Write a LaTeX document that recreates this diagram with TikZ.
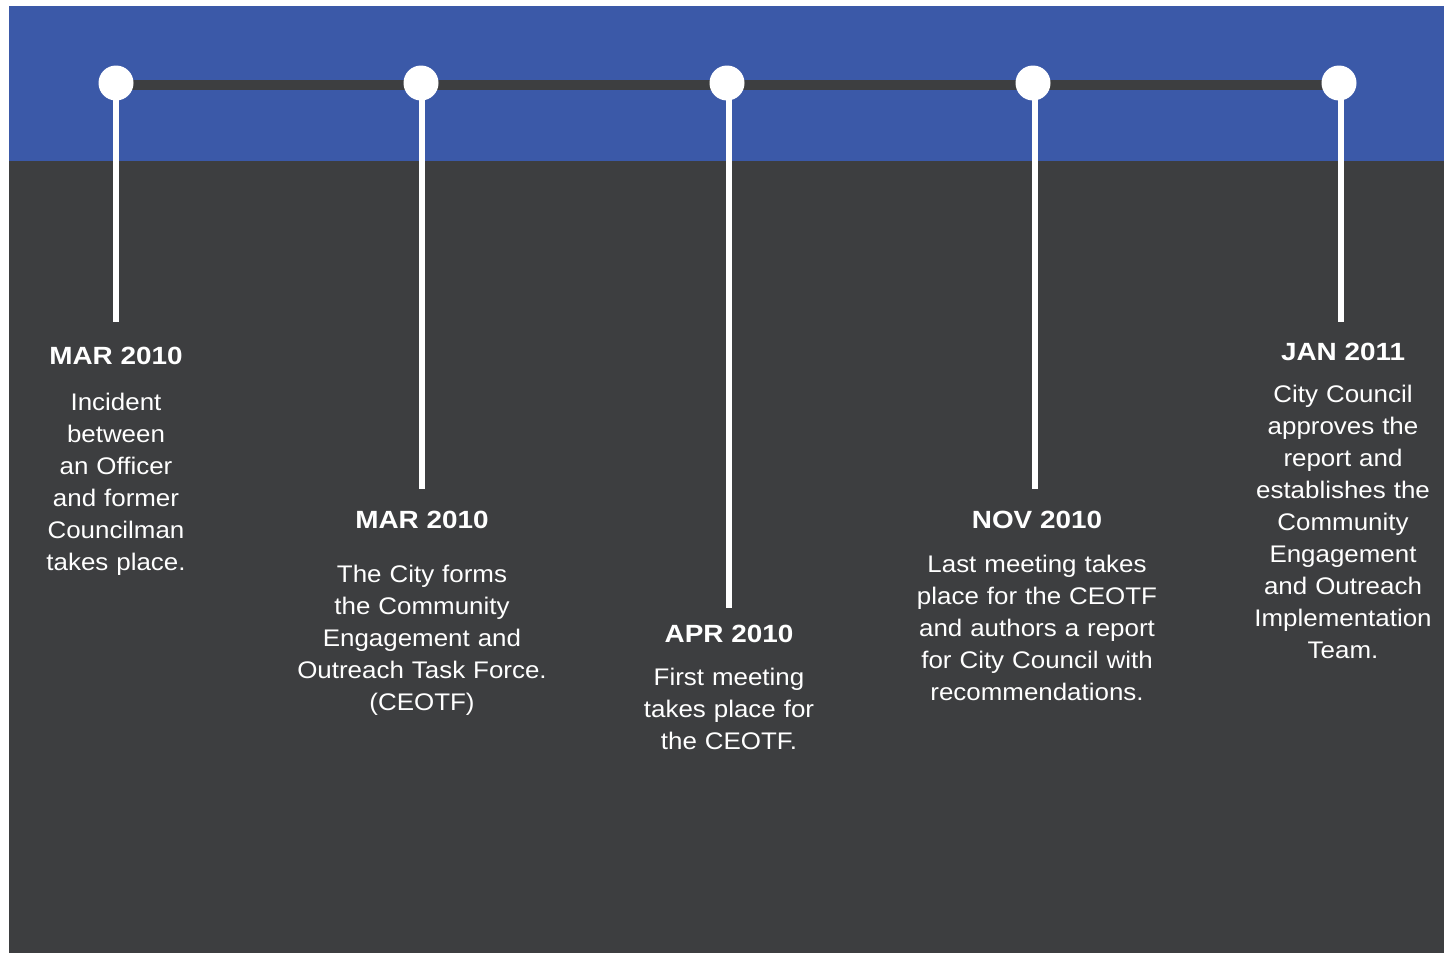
\documentclass[tikz,border=0pt]{standalone}
\usepackage{fontspec}
\newfontfamily\bodyfont[FakeStretch=1.08]{Liberation Sans}
\newfontfamily\datefont[FakeStretch=1.12]{Liberation Sans}
\definecolor{bandblue}{HTML}{3B59A8}
\definecolor{darkbg}{HTML}{3D3E40}
\begin{document}
\begin{tikzpicture}[x=0.5pt,y=-0.5pt,
  dot/.style={circle,fill=white,inner sep=0pt,minimum size=17.5pt},
  stem/.style={draw=white,line width=2.75pt},
  bar/.style={draw=darkbg,line width=5pt},
  datelabel/.style={anchor=base,text=white,inner sep=0pt,font=\datefont\bfseries\fontsize{12.45}{15}\selectfont},
  bodytext/.style={anchor=base,text=white,inner sep=0pt,align=center,text width=170pt,font=\bodyfont\fontsize{12}{16}\selectfont}]
\useasboundingbox (0,0) rectangle (1444,953);
\fill[white] (0,0) rectangle (1444,953);
\fill[bandblue] (9,6) rectangle (1444,161);
\fill[darkbg] (9,161) rectangle (1444,953);
% dot positions
\coordinate (p1) at (116,83);
\coordinate (p2) at (421,83);
\coordinate (p3) at (727,83);
\coordinate (p4) at (1033,83);
\coordinate (p5) at (1339,83);
% stem tops and ends
\coordinate (v1) at (116,85);  \coordinate (e1) at (116,322);
\coordinate (v2) at (422,85);  \coordinate (e2) at (422,489);
\coordinate (v3) at (729,85);  \coordinate (e3) at (729,608);
\coordinate (v4) at (1035,85); \coordinate (e4) at (1035,489);
\coordinate (v5) at (1341,85); \coordinate (e5) at (1341,322);
\draw[bar] ([yshift=-1pt]p1) -- ([yshift=-1pt]p5);
\foreach \i in {1,...,5} {\draw[stem] (v\i) -- (e\i);}
\foreach \i in {1,...,5} {\node[dot] (c\i) at (p\i) {};}
% labels
\node[datelabel] (d1) at (116,364) {MAR 2010};
\node[bodytext] (t1) at (116,410) {Incident\\between\\an Officer\\and former\\Councilman\\takes place.};
\node[datelabel] (d2) at (422,528) {MAR 2010};
\node[bodytext] (t2) at (422,582) {The City forms\\the Community\\Engagement and\\Outreach Task Force.\\(CEOTF)};
\node[datelabel] (d3) at (729,642) {APR 2010};
\node[bodytext] (t3) at (729,685) {First meeting\\takes place for\\the CEOTF.};
\node[datelabel] (d4) at (1037,528) {NOV 2010};
\node[bodytext] (t4) at (1037,572) {Last meeting takes\\place for the CEOTF\\and authors a report\\for City Council with\\recommendations.};
\node[datelabel] (d5) at (1343,360) {JAN 2011};
\node[bodytext] (t5) at (1343,402) {City Council\\approves the\\report and\\establishes the\\Community\\Engagement\\and Outreach\\Implementation\\Team.};
\end{tikzpicture}
\end{document}
